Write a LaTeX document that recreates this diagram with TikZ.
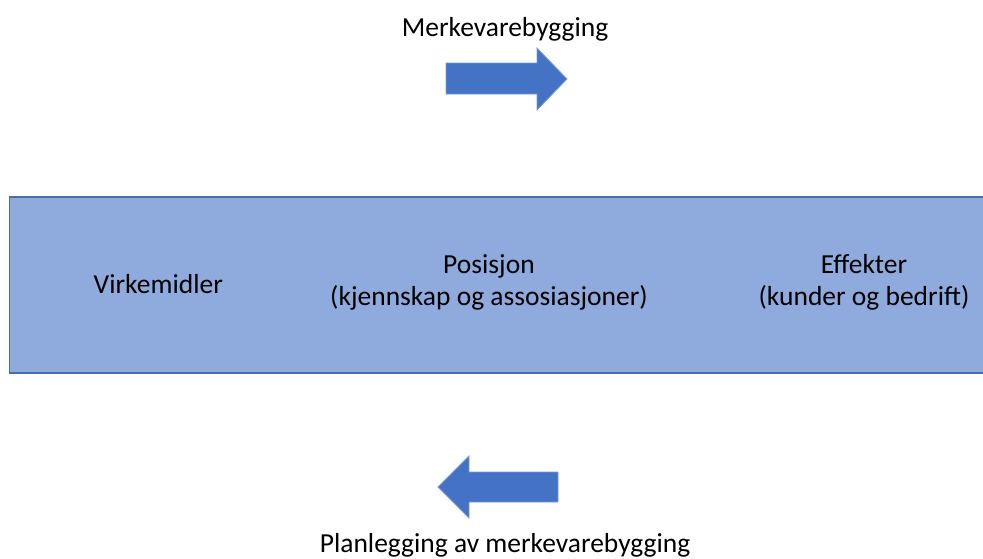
\documentclass[tikz,border=0pt]{standalone}
\usepackage{fontspec}
\setmainfont{Carlito}
\definecolor{boxfill}{HTML}{8FAADC}
\definecolor{boxline}{HTML}{4A6EA9}
\definecolor{arrfill}{HTML}{4472C4}
\definecolor{arrline}{HTML}{7B9BD8}
\begin{document}
\begin{tikzpicture}[x=1pt,y=-1pt,
  lbl/.style={anchor=base,inner sep=0pt,font=\fontsize{27.5}{33}\selectfont,text=black},
  bigarrow/.style={fill=arrfill,draw=arrline,line width=0.8pt,line join=miter}]
\useasboundingbox (0,0) rectangle (983,558);
\begin{scope}
\clip (0,0) rectangle (983,558);
\draw[fill=boxfill,draw=boxline,line width=1.5pt] (9.5,197) rectangle (1000,373);
\end{scope}
% right arrow
\draw[bigarrow] (446,63) -- (537,63) -- (537,48) -- (567,79) -- (537,110) -- (537,94) -- (446,94) -- cycle;
% left arrow
\draw[bigarrow] (558,472) -- (469,472) -- (469,456) -- (438,487) -- (469,518) -- (469,502) -- (558,502) -- cycle;
\node[lbl] (top) at (505,36.5) {Merkevarebygging};
\node[lbl] (bottom) at (505,552) {Planlegging av merkevarebygging};
\node[lbl] (virk) at (158.3,293.3) {Virkemidler};
\node[lbl] (pos1) at (489,273.3) {Posisjon};
\node[lbl] (pos2) at (489,305.5) {(kjennskap og assosiasjoner)};
\node[lbl] (eff1) at (864,273.3) {Effekter};
\node[lbl] (eff2) at (864,305.5) {(kunder og bedrift)};
\end{tikzpicture}
\end{document}
